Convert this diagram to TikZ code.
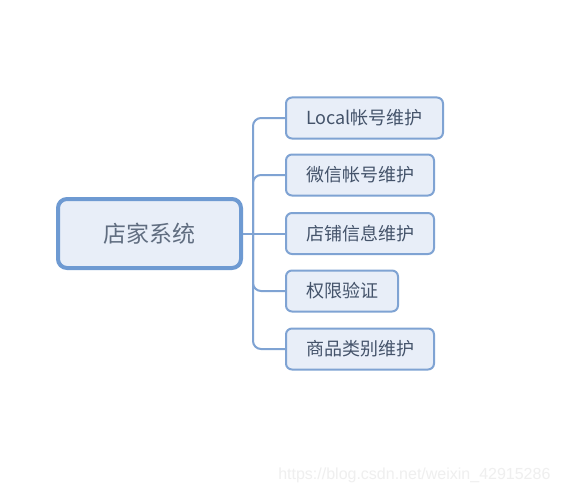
\documentclass[tikz,border=0pt]{standalone}
\usepackage{fontspec}
\newfontfamily\cjk{Noto Sans CJK SC}
\newfontfamily\kmarkfont{Liberation Sans}
\definecolor{kline}{HTML}{7FA3D3}
\definecolor{kmainline}{HTML}{6E9AD2}
\definecolor{kfill}{HTML}{E8EEF8}
\definecolor{ktext}{HTML}{44536A}
\definecolor{kmark}{HTML}{EFEFEF}
\tikzset{
  mainbox/.style={draw=kmainline,line width=4pt,fill=kfill,rounded corners=9pt,
    minimum width=183pt,minimum height=69pt,inner sep=0pt,
    font=\cjk\fontsize{23}{27}\selectfont,text=ktext!85},
  subbox/.style={draw=kline,line width=2pt,fill=kfill,rounded corners=6pt,
    minimum height=41pt,inner sep=0pt,anchor=west,
    font=\cjk\fontsize{18}{21}\selectfont,text=ktext},
  branch/.style={draw=kline,line width=2pt,rounded corners=8pt},
  watermark/.style={font=\kmarkfont\fontsize{16}{19}\selectfont,text=kmark,anchor=base east}
}
\begin{document}
\begin{tikzpicture}[x=1pt,y=-1pt]
\useasboundingbox[fill=white] (0,0) rectangle (564,492);
\pgfmathsetmacro{\kbx}{285}
\pgfmathsetmacro{\kvx}{253}
\node[mainbox] (shop) at (149.5,233.5) {店家系统};
\foreach \kname/\ky/\kw/\klb in {local/118/157/{Local帐号维护},wechat/175/148/{微信帐号维护},store/233.5/148/{店铺信息维护},auth/291/112/{权限验证},category/349/148/{商品类别维护}}{
  \node[subbox,minimum width=\kw pt] (\kname) at (\kbx,\ky) {\klb};
}
\coordinate (fork) at (\kvx,233.5);
\draw[branch] (shop.east) -- (store.west);
\foreach \kname in {local,wechat,auth,category}{\draw[branch] (fork) |- (\kname.west);}
\node[watermark] (mark) at (554,479) {https://blog.csdn.net/weixin\_42915286};
\end{tikzpicture}
\end{document}
